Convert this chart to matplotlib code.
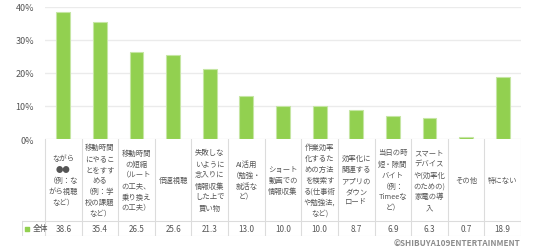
import numpy as np
import matplotlib
matplotlib.use('Agg')
import matplotlib.pyplot as plt

plt.rcParams['font.family'] = ['Noto Sans CJK JP', 'DejaVu Sans']

# %% data
categories = [
    "ながら\n●●\n（例：な\nがら視聴\nなど）",
    "移動時間\nにやるこ\nとをすす\nめる\n（例：学\n校の課題\nなど）",
    "移動時間\nの短縮\n（ルート\nの工夫、\n乗り換え\nの工夫）",
    "倍速視聴",
    "失敗しな\nいように\n念入りに\n情報収集\nした上で\n買い物",
    "AI活用\n（勉強・\n就活な\nど）",
    "ショート\n動画での\n情報収集",
    "作業効率\n化するた\nめの方法\nを検索す\nる(仕事術\nや勉強法,\nなど)",
    "効率化に\n関連する\nアプリの\nダウン\nロード",
    "当日の時\n短・隙間\nバイト\n（例：\nTimeeな\nど）",
    "スマート\nデバイス\nや(効率化\nのための)\n家電の導\n入",
    "その他",
    "特にない",
]
values = [38.6, 35.4, 26.5, 25.6, 21.3, 13.0, 10.0, 10.0, 8.7, 6.9, 6.3, 0.7, 18.9]
series_name = "全体"
yticks = [0, 10, 20, 30, 40]

# %% layout (pixels)
W, H = 536, 253
green = '#92d050'
text_c = '#555555'
line_c = '#dcdcdc'

fig = plt.figure(figsize=(W / 100, H / 100), dpi=100)

x0, x1 = 45, 521
y_top, y_zero = 8, 140
ax = fig.add_axes([x0 / W, 1 - y_zero / H, (x1 - x0) / W, (y_zero - y_top) / H])
n = len(values)
x = np.arange(n)
ax.bar(x, values, width=0.38, color=green, edgecolor='#c6e6a4', linewidth=0.8, zorder=3)
ax.set_xlim(-0.5, n - 0.5)
ax.set_ylim(0, 40)
ax.set_yticks(yticks)
ax.set_yticklabels([f"{t}%" for t in yticks], fontsize=6.5, color=text_c)
ax.tick_params(axis='y', length=0, pad=8)
ax.tick_params(axis='x', length=0, labelbottom=False)
ax.grid(axis='y', color='#ebebeb', linewidth=1, zorder=0)
for s in ax.spines.values():
    s.set_visible(False)

# %% table below
tx0, ty0, ty1 = 22, 237, 140
col_w = (x1 - x0) / n
tab = fig.add_axes([tx0 / W, 1 - ty0 / H, (x1 - tx0) / W, (ty0 - ty1) / H])
tab.set_xlim(-0.5 - (x0 - tx0) / col_w, n - 0.5)
tab.set_ylim(0, ty0 - ty1)
tab.axis('off')
row_h = 15
top = ty0 - ty1
left = -0.5 - (x0 - tx0) / col_w
for i in range(n + 1):
    tab.plot([i - 0.5, i - 0.5], [0, top], color=line_c, lw=0.8)
tab.plot([left, left], [0, row_h], color=line_c, lw=0.8)
tab.plot([left, n - 0.5], [row_h, row_h], color=line_c, lw=0.8)
tab.plot([left, n - 0.5], [0, 0], color=line_c, lw=0.8)

for i, (c, v) in enumerate(zip(categories, values)):
    tab.text(i, row_h + (top - row_h) / 2, c, ha='center', va='center',
             fontsize=5.3, color=text_c, linespacing=1.5)
    tab.text(i, row_h / 2, f"{v:.1f}", ha='center', va='center',
             fontsize=5.8, color=text_c)

tab.scatter([left + 0.15], [row_h / 2], marker='s', s=9, color=green)
tab.text(left + 0.3, row_h / 2, series_name, ha='left', va='center',
         fontsize=5.6, color=text_c)

fig.text(520 / W, 1 - 244 / H, "©SHIBUYA109ENTERTAINMENT", ha='right', va='center',
         fontsize=5.9, fontweight='bold', color='#8c8c8c')

fig.savefig('out.png', dpi=100)
